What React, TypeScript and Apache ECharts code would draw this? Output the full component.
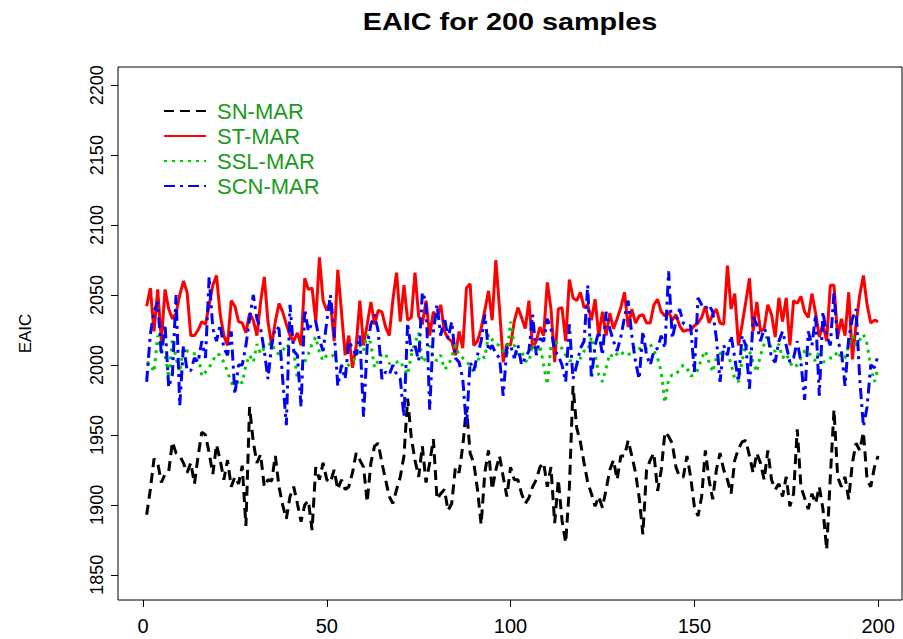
import React, { useEffect, useRef } from "react";
import * as echarts from "echarts";

const chartTitle = "EAIC for 200 samples";
const seriesNames = ["SN-MAR", "ST-MAR", "SSL-MAR", "SCN-MAR"];
const xTicks = [0, 50, 100, 150, 200];
const yTicks = [1850, 1900, 1950, 2000, 2050, 2100, 2150, 2200];

const snMar = [
  1893, 1911, 1933, 1930, 1916, 1922, 1924, 1945, 1937, 1935,
  1930, 1923, 1930, 1915, 1935, 1952, 1950, 1937, 1922, 1943,
  1932, 1918, 1932, 1913, 1920, 1915, 1928, 1885, 1970, 1945,
  1930, 1936, 1913, 1918, 1917, 1935, 1913, 1900, 1890, 1906,
  1913, 1901, 1888, 1900, 1903, 1882, 1927, 1918, 1930, 1918,
  1916, 1925, 1911, 1918, 1911, 1913, 1923, 1937, 1932, 1927,
  1902, 1930, 1942, 1944, 1930, 1918, 1906, 1901, 1911, 1920,
  1935, 1976, 1948, 1932, 1920, 1942, 1916, 1930, 1947, 1904,
  1908, 1911, 1896, 1901, 1927, 1923, 1942, 1970, 1937, 1930,
  1911, 1886, 1923, 1939, 1911, 1925, 1935, 1920, 1906, 1927,
  1918, 1918, 1908, 1901, 1905, 1913, 1918, 1927, 1930, 1913,
  1927, 1887, 1918, 1889, 1873, 1912, 1985, 1955, 1945, 1930,
  1916, 1908, 1899, 1906, 1898, 1911, 1925, 1932, 1918, 1935,
  1935, 1946, 1935, 1923, 1905, 1879, 1925, 1932, 1937, 1910,
  1925, 1952, 1949, 1944, 1927, 1920, 1920, 1935, 1920, 1899,
  1892, 1906, 1939, 1918, 1904, 1925, 1937, 1925, 1918, 1908,
  1932, 1940, 1945, 1946, 1935, 1923, 1937, 1930, 1918, 1939,
  1918, 1911, 1915, 1906, 1920, 1899, 1908, 1954, 1913, 1905,
  1897, 1908, 1901, 1913, 1897, 1868, 1920, 1968, 1920, 1913,
  1920, 1904, 1930, 1944, 1939, 1952, 1918, 1913, 1927, 1935,
];

const stMar = [
  2042, 2055, 2024, 2054, 2017, 2054, 2040, 2033, 2037, 2050,
  2060, 2052, 2021, 2021, 2025, 2031, 2029, 2043, 2057, 2064,
  2036, 2021, 2014, 2046, 2042, 2031, 2030, 2023, 2037, 2032,
  2021, 2045, 2063, 2031, 2014, 2031, 2044, 2038, 2029, 2021,
  2017, 2023, 2014, 2062, 2054, 2055, 2031, 2077, 2046, 2039,
  2045, 2017, 2068, 2038, 2007, 2021, 1998, 2014, 2046, 2014,
  2029, 2045, 2029, 2039, 2038, 2027, 2021, 2047, 2066, 2031,
  2057, 2032, 2034, 2066, 2035, 2029, 2046, 2021, 2038, 2034,
  2043, 2024, 2019, 2017, 2007, 2024, 2012, 2055, 2058, 2014,
  2017, 2026, 2039, 2053, 2032, 2075, 2040, 2002, 2015, 2014,
  2031, 2041, 2034, 2026, 2046, 2012, 2017, 2027, 2021, 2059,
  2040, 2002, 2040, 2041, 2017, 2061, 2048, 2046, 2052, 2041,
  2043, 2032, 2047, 2021, 2038, 2021, 2037, 2026, 2033, 2041,
  2052, 2027, 2040, 2030, 2035, 2036, 2030, 2030, 2043, 2047,
  2038, 2035, 2038, 2032, 2036, 2028, 2024, 2025, 2025, 2028,
  2030, 2034, 2042, 2030, 2036, 2040, 2030, 2029, 2071, 2040,
  2051, 2014, 2029, 2045, 2062, 2024, 2045, 2024, 2026, 2043,
  2036, 2020, 2048, 2031, 2048, 2014, 2046, 2044, 2049, 2038,
  2034, 2051, 2037, 2020, 2029, 2017, 2057, 2057, 2020, 2033,
  2021, 2052, 2004, 2029, 2050, 2064, 2043, 2030, 2032, 2031,
];

const sslMar = [
  2002, 2001, 1995, 2021, 2010, 2007, 1991, 2018, 2005, 1995,
  2012, 2010, 2008, 2008, 2008, 1992, 1995, 1998, 2003, 2008,
  2007, 2002, 1995, 1988, 1982, 1990, 1987, 2000, 2007, 2002,
  2015, 2008, 2012, 2014, 2016, 2009, 2008, 2010, 2015, 2012,
  2010, 1990, 1996, 2002, 2008, 2015, 2020, 2009, 2003, 2007,
  2006, 2007, 2000, 1999, 1998, 2000, 2003, 2005, 2014, 2010,
  2022, 2015, 1998, 2003, 2008, 2008, 2001, 2002, 2002, 2003,
  1997, 1993, 2007, 2016, 2023, 2002, 2005, 2014, 2005, 2003,
  2007, 1997, 1999, 2006, 2014, 2007, 2005, 2002, 2000, 1995,
  2003, 2007, 2005, 2022, 2018, 2015, 2014, 2010, 2007, 2031,
  2014, 2005, 2010, 2003, 2002, 2015, 2010, 2014, 2000, 1986,
  2014, 2019, 2013, 2012, 2007, 2003, 2003, 2000, 2005, 2010,
  2010, 2020, 2008, 1993, 1988, 1998, 2008, 2005, 2008, 2010,
  2007, 2007, 2010, 2014, 2012, 2010, 2012, 2015, 2010, 2005,
  1995, 1973, 1990, 1993, 1993, 1997, 2000, 1998, 1992, 1993,
  1997, 2005, 2010, 2002, 1995, 2005, 2008, 2010, 2008, 2001,
  1990, 1988, 2003, 2015, 2010, 2002, 1995, 2007, 2015, 2022,
  2010, 2010, 2015, 2005, 2008, 2002, 1998, 2000, 2005, 2010,
  2010, 2005, 2003, 2010, 2002, 2003, 2005, 2005, 2010, 2005,
  2005, 2014, 2021, 2014, 2018, 2022, 2015, 1998, 1988, 1998,
];

const scnMar = [
  1988, 2022, 2038, 2045, 2007, 2029, 1984, 1993, 2050, 1971,
  2014, 1996, 1996, 2005, 2002, 2017, 2005, 2063, 2026, 2017,
  2029, 2012, 2007, 2024, 1979, 2000, 2000, 2014, 2033, 2050,
  2033, 2026, 2010, 1990, 2014, 2027, 2026, 1990, 1957, 2043,
  2010, 2007, 1970, 2040, 2024, 2030, 2031, 2018, 2010, 2031,
  2050, 2024, 1985, 2000, 1990, 2017, 2012, 2007, 2021, 1963,
  2014, 2029, 2036, 2024, 1990, 1995, 1993, 2000, 1993, 1990,
  1963, 2030, 2010, 2014, 2003, 2052, 2045, 1968, 2024, 2043,
  2021, 2034, 2019, 2031, 2005, 2002, 1990, 1956, 2002, 1996,
  2007, 2017, 2036, 2010, 2014, 2008, 2005, 1978, 2012, 2014,
  2005, 2014, 2000, 2005, 2010, 2036, 2007, 2019, 2017, 2033,
  2026, 2010, 2007, 2000, 1988, 2029, 1990, 2000, 2012, 2017,
  2057, 1990, 2014, 2024, 2007, 2038, 2026, 2017, 2010, 2020,
  2034, 2046, 2021, 2002, 1990, 2024, 2007, 2000, 2010, 2012,
  2021, 2012, 2067, 2019, 2031, 2040, 2030, 2028, 2028, 1995,
  2048, 2043, 2040, 2043, 2038, 2019, 1988, 2014, 2007, 2021,
  2005, 1988, 2021, 2014, 1983, 2034, 2029, 2017, 2026, 2021,
  2005, 2002, 2017, 2024, 2014, 2002, 2005, 2017, 2002, 1975,
  2024, 2014, 2036, 1978, 2038, 2021, 2014, 2052, 2017, 2010,
  1985, 2019, 2033, 2040, 1990, 1956, 1970, 2000, 1998, 2007,
];

const FONT = "'Liberation Sans', Arial, Helvetica, sans-serif";

function toPairs(values: number[]) {
  return values.map((v, i) => [i + 1, v]);
}

export default function App() {
  const ref = useRef<HTMLDivElement>(null);

  useEffect(() => {
    if (!ref.current) return;
    const chart = echarts.init(ref.current, null, { renderer: "svg" });
    const styles = [
      { color: "#000000", type: [10, 6] as number[] },
      { color: "#ff0000", type: "solid" as any },
      { color: "#00cc00", type: [3, 5] as number[] },
      { color: "#0000ff", type: [11, 5, 3, 5] as number[] },
    ];
    const dataSets = [snMar, stMar, sslMar, scnMar];
    chart.setOption({
      animation: false,
      backgroundColor: "#ffffff",
      graphic: [
        {
          type: "text",
          x: 510,
          y: 22,
          scaleX: 1.2,
          style: {
            text: chartTitle,
            fontSize: 24,
            fontWeight: "bold",
            fontFamily: FONT,
            fill: "#000",
            align: "center",
            verticalAlign: "middle",
          },
        },
      ],
      legend: {
        orient: "vertical",
        left: 163,
        top: 100,
        padding: 0,
        itemWidth: 42,
        itemHeight: 14,
        itemGap: 3,
        data: seriesNames,
        itemStyle: { opacity: 0, borderWidth: 0 },
        textStyle: {
          fontSize: 22,
          lineHeight: 22,
          color: "#1a9a1a",
          fontFamily: FONT,
          padding: [0, 0, 0, 6],
        },
      },
      grid: {
        left: 118,
        right: 1,
        top: 67,
        bottom: 39,
        show: true,
        borderColor: "#000",
        borderWidth: 1,
        backgroundColor: "transparent",
        containLabel: false,
        outerBoundsMode: "none",
      },
      xAxis: {
        type: "value",
        min: -6.8,
        max: 206.5,
        splitLine: { show: false },
        axisLine: { show: false, onZero: false },
        axisTick: {
          show: true,
          length: 7,
          customValues: xTicks,
          lineStyle: { color: "#000", width: 1 },
        },
        axisLabel: {
          customValues: xTicks,
          margin: 16,
          fontSize: 20,
          color: "#000",
          fontFamily: FONT,
          formatter: (v: number) => String(v),
        },
      },
      yAxis: {
        type: "value",
        min: 1832,
        max: 2213,
        name: "EAIC",
        nameLocation: "middle",
        nameGap: 84,
        nameRotate: 90,
        nameTextStyle: { fontSize: 17, color: "#000", fontFamily: FONT },
        splitLine: { show: false },
        axisLine: { show: false, onZero: false },
        axisTick: {
          show: true,
          length: 7,
          customValues: yTicks,
          lineStyle: { color: "#000", width: 1 },
        },
        axisLabel: {
          customValues: yTicks,
          rotate: 90,
          margin: 12,
          fontSize: 18,
          color: "#000",
          fontFamily: FONT,
          formatter: (v: number) => String(v),
        },
      },
      series: dataSets.map((d, k) => ({
        name: seriesNames[k],
        type: "line",
        data: toPairs(d),
        showSymbol: false,
        symbol: "none",
        color: styles[k].color,
        lineStyle: { color: styles[k].color, width: 3, type: styles[k].type, cap: "butt" },
        itemStyle: { color: styles[k].color },
        z: 2 + k,
      })),
    });
    return () => chart.dispose();
  }, []);

  return (
    <div
      ref={ref}
      style={{ position: "absolute", left: 0, top: 0, width: 903, height: 639 }}
    />
  );
}
